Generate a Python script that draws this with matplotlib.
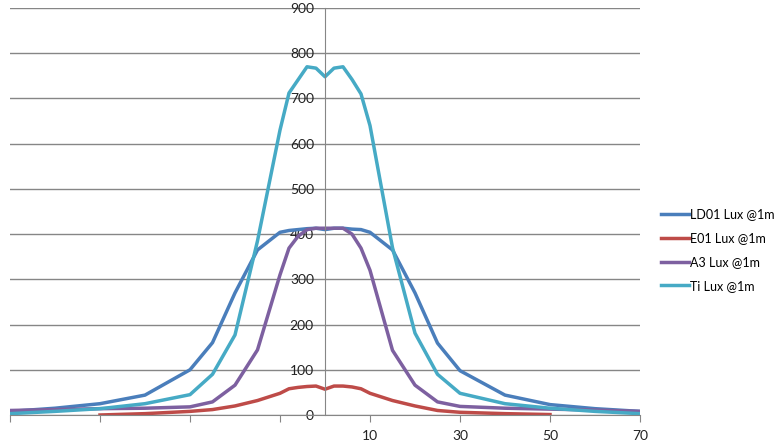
import numpy as np
import matplotlib
matplotlib.use("Agg")
import matplotlib.pyplot as plt

plt.rcParams['font.family'] = ['Lato', 'DejaVu Sans']

# angle (deg) and lux readings
angle = [-70, -60, -50, -40, -30, -25, -20, -15, -10, -8, -6, -4, -2, 0,
         2, 4, 6, 8, 10, 15, 20, 25, 30, 40, 50, 60, 70]
ld01 = [8, 15, 25, 44, 100, 160, 270, 365, 404, 408, 410, 412, 413, 410,
        413, 413, 411, 410, 404, 365, 270, 159, 98, 44, 23, 14, 8]
e01 = [np.nan, np.nan, 0, 3, 8, 12, 20, 32, 48, 58, 61, 63, 64, 57,
       64, 64, 62, 58, 48, 32, 20, 10, 6, 3, 1, np.nan, np.nan]
a3 = [10, 12, 14, 15, 18, 29, 66, 144, 310, 369, 395, 410, 413, 413,
      413, 413, 400, 369, 320, 143, 66, 29, 19, 15, 13, 11, 8]
ti = [3, 8, 14, 25, 45, 90, 177, 385, 630, 712, 741, 770, 767, 748,
      767, 770, 742, 710, 640, 370, 181, 90, 48, 25, 15, 8, 3]

series = [("LD01 Lux @1m", ld01, "#4A7EBB"),
          ("E01 Lux @1m", e01, "#BE4B48"),
          ("A3 Lux @1m", a3, "#7D60A0"),
          ("Ti Lux @1m", ti, "#46AAC5")]

xticks = [-70, -50, -30, -10, 10, 30, 50, 70]
xticklabels = ["", "", "", "", "10", "30", "50", "70"]

fig = plt.figure(figsize=(7.77, 4.44), dpi=100)
ax = fig.add_axes([10 / 777, 1 - 415 / 444, 630 / 777, 407 / 444])

for name, vals, col in series:
    ax.plot(angle, vals, color=col, lw=2.5, label=name, solid_joinstyle='round')

ax.set_xlim(-70, 70)
ax.set_ylim(0, 900)
ax.set_yticks(range(0, 901, 100))
ax.set_xticks(xticks)
ax.set_xticklabels(xticklabels)
ax.yaxis.grid(True, color="#868686", lw=1)
ax.set_axisbelow(True)

for s in ["top", "right"]:
    ax.spines[s].set_visible(False)
ax.spines["left"].set_position(("data", 0))
ax.spines["left"].set_color("#868686")
ax.spines["bottom"].set_color("#868686")
ax.tick_params(axis="y", length=0, pad=8, labelsize=10, colors="#222222")
ax.tick_params(axis="x", length=5, color="#868686", labelsize=10,
               labelcolor="#222222", pad=6)

fig.legend(loc="center left", bbox_to_anchor=(656 / 777, 1 - 250 / 444),
           frameon=False, fontsize=9, handlelength=2.2, labelspacing=0.95,
           handletextpad=0.1, borderaxespad=0)

fig.savefig("out.png", dpi=100)
